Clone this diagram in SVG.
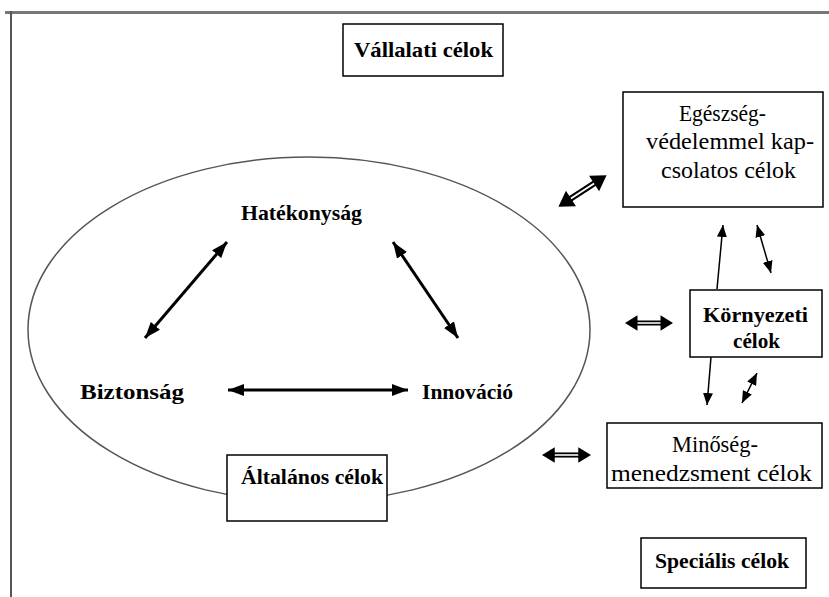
<svg xmlns="http://www.w3.org/2000/svg" width="829" height="597" viewBox="0 0 829 597">
<style>
.box{fill:#fff;stroke:#000;stroke-width:1.5}
.b{font-family:"Liberation Serif","Times New Roman",serif;font-weight:bold;font-size:22px;fill:#000}
.r{font-family:"Liberation Serif","Times New Roman",serif;font-size:23px;fill:#000}
.thick{stroke:#000;stroke-width:3;fill:none;marker-start:url(#hb);marker-end:url(#hb)}
.thin{stroke:#000;stroke-width:1.5;fill:none}
</style>
<defs>
<marker id="hb" markerUnits="userSpaceOnUse" markerWidth="16" markerHeight="12" refX="16" refY="6" orient="auto-start-reverse"><path d="M0,0 L16,6 L0,12 z" fill="#000"/></marker>
<marker id="hs" markerUnits="userSpaceOnUse" markerWidth="12" markerHeight="10" refX="12" refY="5" orient="auto-start-reverse"><path d="M0,0 L12,5 L0,10 z" fill="#000"/></marker>
<g id="dbl">
<rect x="-14" y="-2.6" width="28" height="5.2" fill="#000"/>
<rect x="-14" y="-0.8" width="28" height="1.6" fill="#fff"/>
<path d="M-25,0 L-12,-8 L-12,8 z M25,0 L12,-8 L12,8 z" fill="#000"/>
</g>
</defs>
<rect x="0" y="0" width="829" height="597" fill="#fff"/>
<g id="frame">
<rect x="5" y="11" width="824" height="3" fill="#777"/>
<rect x="10" y="11" width="2" height="586" fill="#555"/>
</g>
<g id="ellipse-bg"><ellipse cx="309" cy="329.5" rx="281" ry="172.5" fill="none" stroke="#555" stroke-width="1.5"/></g>
<g id="connectors">
<line class="thick" x1="145" y1="338" x2="227" y2="242"/>
<line class="thick" x1="393" y1="242" x2="458" y2="338"/>
<line class="thick" x1="228" y1="390" x2="408" y2="390"/>
<line class="thin" x1="717" y1="289" x2="723" y2="225" marker-end="url(#hs)"/>
<line class="thin" x1="757" y1="225" x2="771" y2="273" marker-start="url(#hs)" marker-end="url(#hs)"/>
<line class="thin" x1="711" y1="357" x2="707" y2="405" marker-end="url(#hs)"/>
<line class="thin" x1="742" y1="403" x2="757" y2="373" marker-start="url(#hs)" marker-end="url(#hs)"/>
<use href="#dbl" transform="translate(582.5,191) rotate(-33.1) scale(1.15)"/>
<use href="#dbl" transform="translate(649,323) scale(0.96)"/>
<use href="#dbl" transform="translate(566.5,455) scale(0.98)"/>
</g>
<g id="vallalati"><rect class="box" x="343" y="24" width="160" height="52"/><text class="b" x="354" y="57" textLength="139" lengthAdjust="spacingAndGlyphs">Vállalati célok</text></g>
<g id="hatekonysag"><text class="b" x="241" y="220" textLength="121" lengthAdjust="spacingAndGlyphs">Hatékonyság</text></g>
<g id="biztonsag"><text class="b" x="80" y="399" textLength="104" lengthAdjust="spacingAndGlyphs">Biztonság</text></g>
<g id="innovacio"><text class="b" x="422" y="399" textLength="91" lengthAdjust="spacingAndGlyphs">Innováció</text></g>
<g id="altalanos"><rect class="box" x="227" y="455" width="160" height="66"/><text class="b" x="241" y="484" textLength="142" lengthAdjust="spacingAndGlyphs">Általános célok</text></g>
<g id="egeszseg"><rect class="box" x="623" y="92" width="200" height="115"/>
<text class="r" x="679" y="121" textLength="87" lengthAdjust="spacingAndGlyphs">Egészség-</text>
<text class="r" x="646" y="149" textLength="168" lengthAdjust="spacingAndGlyphs">védelemmel kap-</text>
<text class="r" x="661" y="178" textLength="135" lengthAdjust="spacingAndGlyphs">csolatos célok</text></g>
<g id="kornyezeti"><rect class="box" x="690" y="290" width="132" height="67"/>
<text class="b" x="703" y="322" textLength="105" lengthAdjust="spacingAndGlyphs">Környezeti</text>
<text class="b" x="733" y="348" textLength="47" lengthAdjust="spacingAndGlyphs">célok</text></g>
<g id="minoseg"><rect class="box" x="607" y="423" width="215" height="65"/>
<text class="r" x="672" y="452" textLength="86" lengthAdjust="spacingAndGlyphs">Minőség-</text>
<text class="r" x="611" y="481" textLength="201" lengthAdjust="spacingAndGlyphs">menedzsment célok</text></g>
<g id="specialis"><rect class="box" x="641" y="538" width="165" height="50"/><text class="b" x="655" y="568" textLength="134" lengthAdjust="spacingAndGlyphs">Speciális célok</text></g>
</svg>
